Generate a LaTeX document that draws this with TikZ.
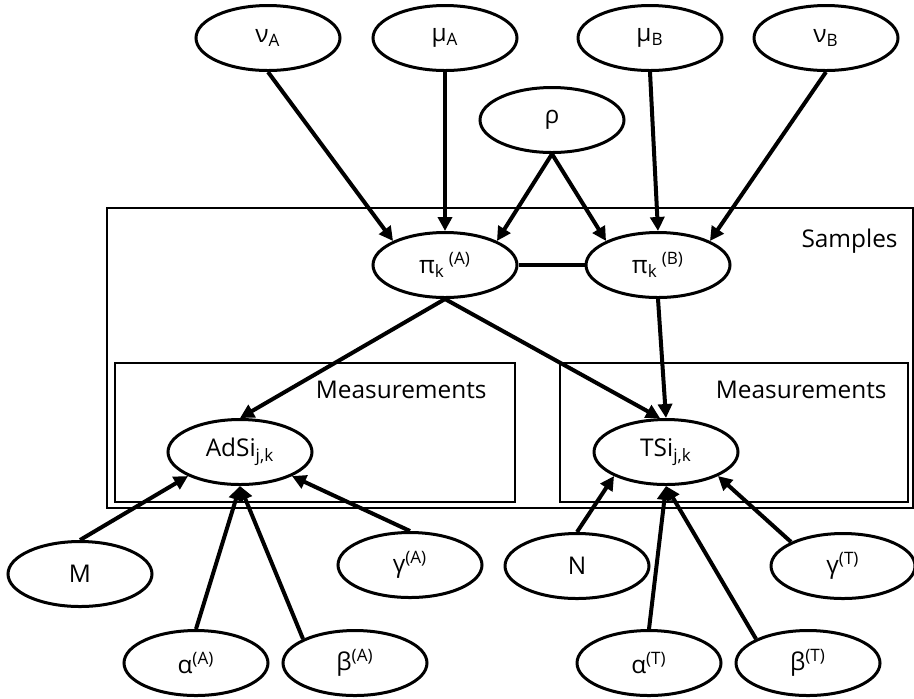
\documentclass[tikz,border=0pt]{standalone}
\usepackage{fontspec}
\setmainfont{Open Sans}
\usepackage{tikz}
\usetikzlibrary{arrows.meta, positioning, calc, shapes.geometric}

\begin{document}
\begin{tikzpicture}[x = 0.5pt, y = -0.5pt,
	var/.style = {draw, ellipse, line width = 1.5pt, minimum width = 72pt, minimum height = 32.5pt, inner sep = 0pt, font = \fontsize{12.2}{14}\selectfont},
	plate/.style = {draw, line width = 1.4pt},
	platelabel/.style = {anchor = north east, inner sep = 0pt, font = \fontsize{12.2}{14}\selectfont},
	edge/.style = {line width = 2pt, -{Triangle[length = 7pt, width = 7pt]}},
	link/.style = {line width = 2pt}]
	\path [use as bounding box, draw = none] (0, 0) rectangle (914, 698);
	% plates
	\draw [plate] (107, 208) rectangle (913, 508);
	\draw [plate] (115, 363) rectangle (515, 502);
	\draw [plate] (560, 363) rectangle (908, 502);
	\node [platelabel] (samples) at (898, 229) {Samples};
	\node [platelabel] (measA) at (487, 381) {Measurements};
	\node [platelabel] (measT) at (887, 381) {Measurements};
	% top row
	\node [var] (nuA) at (268, 38) {ν\textsubscript{A}};
	\node [var] (muA) at (445, 38) {μ\textsubscript{A}};
	\node [var] (muB) at (650, 38) {μ\textsubscript{B}};
	\node [var] (nuB) at (826, 38) {ν\textsubscript{B}};
	\node [var] (rho) at (552, 120) {ρ};
	% samples
	\node [var] (piA) at (445, 265) {π\textsubscript{k}\,\textsuperscript{(A)}};
	\node [var] (piB) at (658, 265) {π\textsubscript{k}\,\textsuperscript{(B)}};
	% measurements
	\node [var] (AdSi) at (240, 452) {AdSi\textsubscript{j,k}};
	\node [var] (TSi) at (666, 452) {TSi\textsubscript{j,k}};
	% bottom rows
	\node [var] (M) at (80, 574) {M};
	\node [var] (gammaA) at (410, 565) {γ\textsuperscript{(A)}};
	\node [var] (alphaA) at (196, 663) {α\textsuperscript{(A)}};
	\node [var] (betaA) at (355, 663) {β\textsuperscript{(A)}};
	\node [var] (N) at (577, 566) {N};
	\node [var] (gammaT) at (843, 566) {γ\textsuperscript{(T)}};
	\node [var] (alphaT) at (649, 663) {α\textsuperscript{(T)}};
	\node [var] (betaT) at (808, 663) {β\textsuperscript{(T)}};
	% edges
	\draw [edge] (nuA.south) -- (piA.north west);
	\draw [edge] (muA.south) -- (piA.north);
	\draw [edge] (rho.south) -- (piA.north east);
	\draw [edge] (rho.south) -- (piB.north west);
	\draw [edge] (muB.south) -- (piB.north);
	\draw [edge] (nuB.south) -- (piB.north east);
	\draw [link] (piA.east) -- (piB.west);
	\draw [edge] (piA.south) -- (AdSi.north);
	\draw [edge] (piA.south) -- (TSi.100);
	\draw [edge] (piB.south) -- (TSi.north);
	\draw [edge] (M.north) -- (AdSi.south west);
	\draw [edge] (alphaA.north) -- (AdSi.south);
	\draw [edge] (betaA.north west) -- (AdSi.south);
	\draw [edge] (gammaA.north) -- (AdSi.south east);
	\draw [edge] (N.north) -- (TSi.south west);
	\draw [edge] (alphaT.north) -- (TSi.south);
	\draw [edge] (betaT.north west) -- (TSi.south);
	\draw [edge] (gammaT.north west) -- (TSi.south east);
\end{tikzpicture}
\end{document}
